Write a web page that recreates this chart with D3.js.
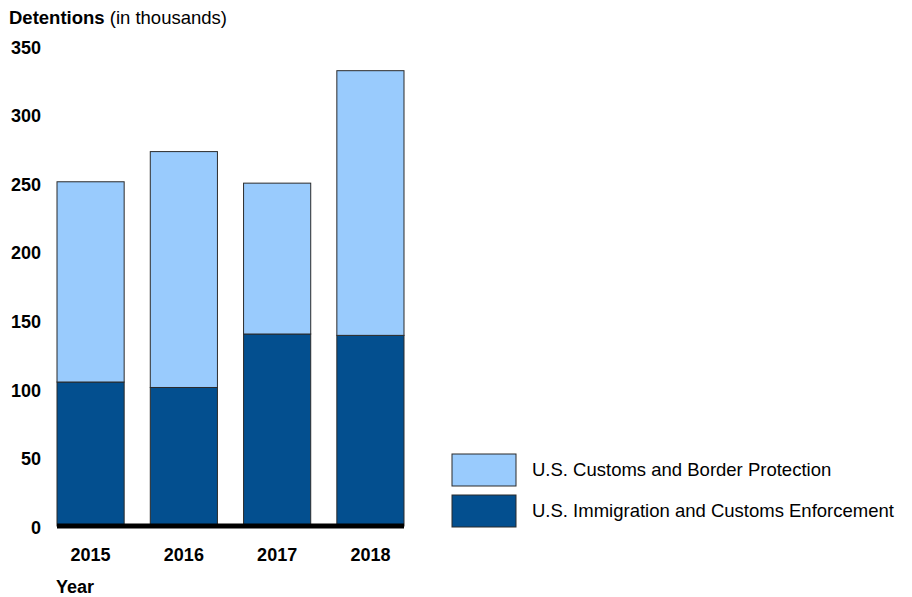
<!DOCTYPE html>
<html>
<head>
<meta charset="utf-8">
<script src="https://cdn.jsdelivr.net/npm/d3@7"></script>
<style>
  html, body { margin: 0; padding: 0; background: #fff; }
  svg { display: block; font-family: "Liberation Sans", Arial, sans-serif; }
</style>
</head>
<body>
<svg id="chart" width="912" height="597"></svg>
<script>
// Detentions by agency, fiscal years 2015-2018 (thousands)
const years = ["2015", "2016", "2017", "2018"];
const iceValues = [105, 101, 140, 139];
const cbpValues = [146, 172, 110, 193];
const yTicks = [0, 50, 100, 150, 200, 250, 300, 350];
const seriesNames = ["U.S. Customs and Border Protection", "U.S. Immigration and Customs Enforcement"];
const seriesColors = ["#99cbfd", "#034f8f"];

const svg = d3.select("#chart");

const x = d3.scaleBand().domain(years).range([57, 404]).paddingInner(0.28).paddingOuter(0);
const y = d3.scaleLinear().domain([0, 350]).range([526, 46]);

// stacked layout: ICE at bottom, CBP on top
const rows = years.map((yr, i) => ({ year: yr, ice: iceValues[i], cbp: cbpValues[i] }));
const stack = d3.stack().keys(["ice", "cbp"]);
const layers = stack(rows);
const fillFor = { ice: seriesColors[1], cbp: seriesColors[0] };

svg.append("g").selectAll("g")
  .data(layers)
  .join("g")
  .attr("fill", d => fillFor[d.key])
  .selectAll("rect")
  .data(d => d)
  .join("rect")
  .attr("x", d => x(d.data.year))
  .attr("y", d => y(d[1]))
  .attr("width", x.bandwidth())
  .attr("height", d => y(d[0]) - y(d[1]))
  .attr("stroke", "#2b2b2b")
  .attr("stroke-width", 1);

// heavy baseline
svg.append("line")
  .attr("x1", x.range()[0]).attr("x2", x.range()[1])
  .attr("y1", y(0)).attr("y2", y(0))
  .attr("stroke", "#000").attr("stroke-width", 5);

// y axis labels
const yAxis = d3.axisLeft(y).tickValues(yTicks).tickSize(0).tickPadding(0);
const yg = svg.append("g").attr("transform", "translate(41,1.5)").call(yAxis);
yg.select(".domain").remove();
yg.selectAll("text")
  .attr("font-size", 18).attr("font-weight", "bold").attr("fill", "#000")
  .attr("font-family", "Liberation Sans, Arial, sans-serif");

// x axis labels
const xAxis = d3.axisBottom(x).tickSize(0).tickPadding(0);
const xg = svg.append("g").attr("transform", "translate(0,548)").call(xAxis);
xg.select(".domain").remove();
xg.selectAll("text")
  .attr("font-size", 18).attr("font-weight", "bold").attr("fill", "#000")
  .attr("font-family", "Liberation Sans, Arial, sans-serif");

// axis titles
const title = svg.append("text").attr("x", 9).attr("y", 24).attr("font-size", 18.5).attr("fill", "#000");
title.append("tspan").attr("font-weight", "bold").text("Detentions");
title.append("tspan").text(" (in thousands)");

svg.append("text").attr("x", 56).attr("y", 593)
  .attr("font-size", 18).attr("font-weight", "bold").attr("fill", "#000").text("Year");

// legend
const legend = svg.append("g").attr("transform", "translate(452,454)");
seriesNames.forEach((name, i) => {
  const g = legend.append("g").attr("transform", `translate(0,${i * 41})`);
  g.append("rect").attr("width", 64).attr("height", 32)
    .attr("fill", seriesColors[i]).attr("stroke", "#2b2b2b").attr("stroke-width", 1);
  g.append("text").attr("x", 80).attr("y", 16).attr("dy", "0.35em")
    .attr("font-size", 18.5).attr("fill", "#000").text(name);
});
</script>
</body>
</html>
